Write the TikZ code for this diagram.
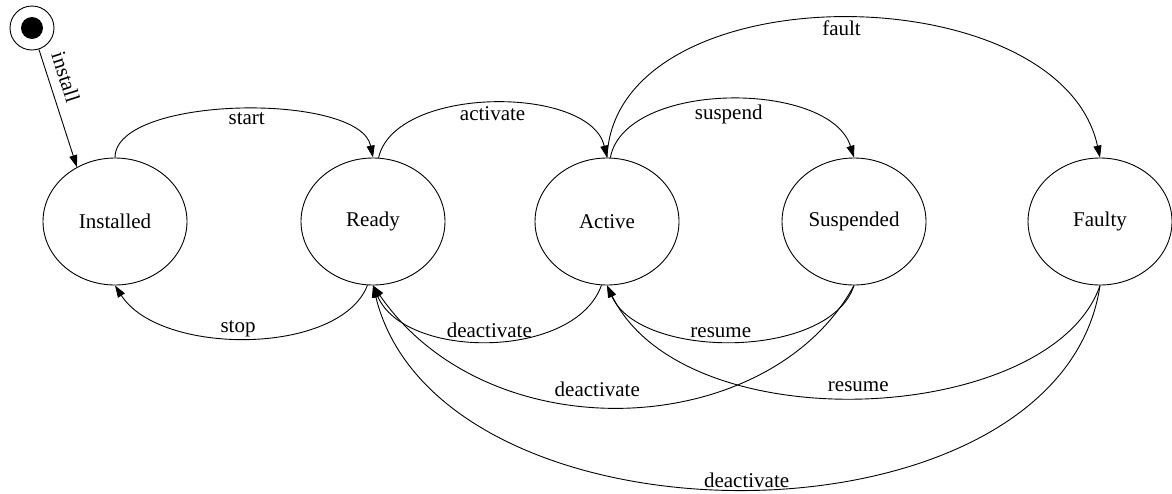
\documentclass[tikz,border=0pt]{standalone}
\usepackage{fontspec}
\setmainfont{Liberation Serif}
\usetikzlibrary{arrows.meta, shapes.geometric}

\begin{document}
\begin{tikzpicture}[x=1pt, y=-1pt, font=\fontsize{21}{24}\selectfont,
    >={Triangle[length=12pt, width=8pt]}, line width=0.9pt,
    state/.style={draw, ellipse, minimum width=144pt, minimum height=127pt, inner sep=0pt},
    lbltop/.style={anchor=north, inner sep=2.5pt},
    lblbot/.style={anchor=south, inner sep=1pt}]
    \useasboundingbox (0, 0) rectangle (1172, 493);

    \node (init) [draw, circle, minimum size=44pt, inner sep=0pt] at (32, 28) {};
    \fill (init.center) circle (11);

    \node (Installed) [state] at (115, 221.5) {Installed};
    \node (Ready) [state] at (373, 221.5) {Ready};
    \node (Active) [state] at (607, 221.5) {Active};
    \node (Suspended) [state] at (854, 221.5) {Suspended};
    \node (Faulty) [state] at (1100, 221.5) {Faulty};

    \draw[->] (init) -- (Installed.125) node[pos=0.28, sloped, above=6pt] (linstall) {install};

    % upper arcs
    \draw[->] (Installed.north) .. controls (115, 95) and (360, 92) .. (Ready.north)
        node[lbltop, pos=0.52] (lstart) {start};
    \draw[->] (Ready.85) .. controls (395, 85) and (590, 85) .. (Active.north)
        node[lbltop, pos=0.5] (lactivate) {activate};
    \draw[->] (Active.87) .. controls (625, 80) and (830, 80) .. (Suspended.north)
        node[lbltop, pos=0.5, yshift=-3pt] (lsuspend) {suspend};
    \draw[->] (Active.north) .. controls (615, -30) and (1060, -27) .. (Faulty.north)
        node[lbltop, pos=0.5] (lfault) {fault};

    % lower arcs
    \draw[->] (Ready.265) .. controls (340, 356) and (160, 356) .. (Installed.south)
        node[lblbot, pos=0.53] (lstop) {stop};
    \draw[->] (Active.265) .. controls (575, 360) and (405, 360) .. (Ready.south)
        node[lblbot, pos=0.5, yshift=2pt] (ldeactA) {deactivate};
    \draw[->] (Suspended.south) .. controls (830, 360) and (640, 360) .. (Active.south)
        node[lblbot, pos=0.54, yshift=2pt] (lresumeS) {resume};
    \draw[->] (Suspended.south) .. controls (770, 440) and (490, 455) .. (Ready.south)
        node[lblbot, pos=0.55, yshift=8pt] (ldeactS) {deactivate};
    \draw[->] (Faulty.south) .. controls (1052, 425) and (685, 445) .. (Active.south)
        node[lblbot, pos=0.51, yshift=5pt] (lresumeF) {resume};
    \draw[->] (Faulty.south) .. controls (1060, 556) and (440, 558) .. (Ready.south)
        node[lblbot, pos=0.5] (ldeactF) {deactivate};
\end{tikzpicture}
\end{document}
